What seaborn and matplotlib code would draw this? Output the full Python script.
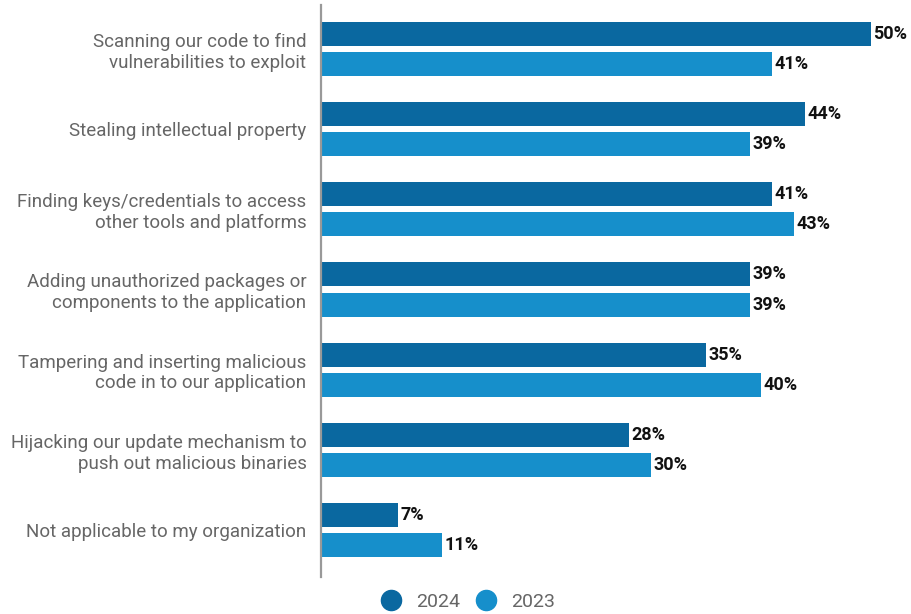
import matplotlib
matplotlib.use("Agg")
import matplotlib.pyplot as plt
from matplotlib.lines import Line2D
import seaborn as sns
import pandas as pd

categories = [
    "Scanning our code to find\nvulnerabilities to exploit",
    "Stealing intellectual property",
    "Finding keys/credentials to access\nother tools and platforms",
    "Adding unauthorized packages or\ncomponents to the application",
    "Tampering and inserting malicious\ncode in to our application",
    "Hijacking our update mechanism to\npush out malicious binaries",
    "Not applicable to my organization",
]
values_2024 = [50, 44, 41, 39, 35, 28, 7]
values_2023 = [41, 39, 43, 39, 40, 30, 11]
years = ["2024", "2023"]
colors = ["#0a68a0", "#168fcb"]

df = pd.DataFrame({
    "category": categories * 2,
    "year": [years[0]] * len(categories) + [years[1]] * len(categories),
    "value": values_2024 + values_2023,
})

sns.set_theme(style="white")
plt.rcParams["font.family"] = ["Roboto", "DejaVu Sans"]

fig = plt.figure(figsize=(9.11, 6.14), dpi=100)
ax = fig.add_axes([321 / 911, 1 - 577 / 614, 590 / 911, 572 / 614])

sns.barplot(
    data=df, y="category", x="value", hue="year", order=categories,
    hue_order=years, palette=colors, orient="h", width=0.75, gap=0.2,
    saturation=1, legend=False, linewidth=0, ax=ax,
)

for container in ax.containers:
    ax.bar_label(container, labels=[f"{v:.0f}%" for v in container.datavalues],
                 padding=1.5, fontsize=13, fontweight="bold", color="#111111")

ax.set_xlim(0, 590 / 11)
ax.set_ylim(6.5875, -0.55)
ax.set_xlabel("")
ax.set_ylabel("")
ax.set_xticks([])
ax.tick_params(axis="y", length=0, pad=10.5, labelsize=13.5, labelcolor="#666666")
for lbl in ax.get_yticklabels():
    lbl.set_horizontalalignment("right")
    lbl.set_linespacing(1.2)
for side in ["top", "right", "bottom"]:
    ax.spines[side].set_visible(False)
ax.spines["left"].set_color("#999999")
ax.spines["left"].set_linewidth(1.6)

handles = [Line2D([0], [0], marker="o", linestyle="", markersize=14.5,
                  markerfacecolor=c, markeredgecolor=c) for c in colors]
fig.legend(handles, years, loc="center", bbox_to_anchor=(468 / 911, 1 - 602 / 614),
           ncol=2, frameon=False, fontsize=14, labelcolor="#666666",
           handletextpad=0.79, columnspacing=0.84, handlelength=1.0)

fig.savefig("out.png", dpi=100)
